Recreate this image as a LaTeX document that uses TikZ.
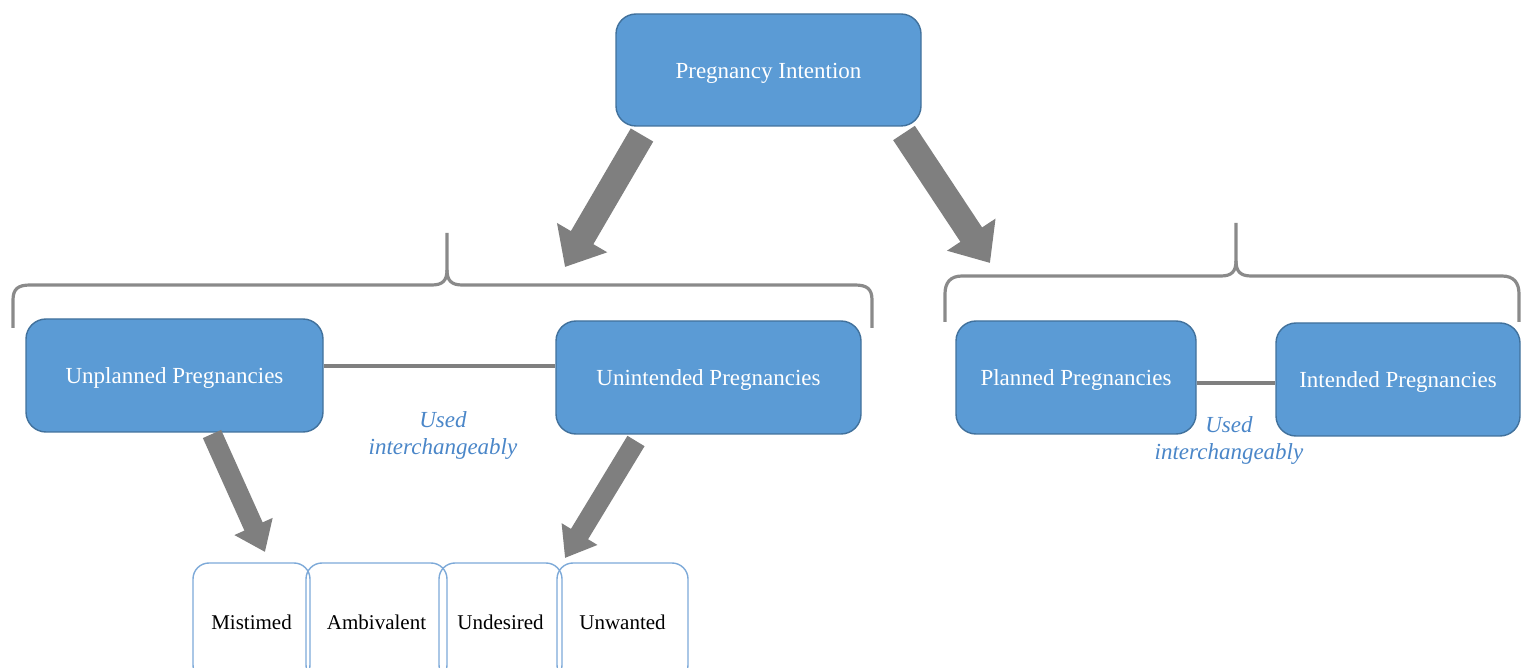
\documentclass[tikz,border=0pt]{standalone}
\usepackage{fontspec}
\setmainfont{Liberation Serif}
\usetikzlibrary{arrows.meta}
\definecolor{boxblue}{HTML}{5B9BD5}
\definecolor{boxline}{HTML}{41719C}
\definecolor{lightline}{HTML}{7DA9D8}
\definecolor{arrowgray}{HTML}{7F7F7F}
\definecolor{bracegray}{HTML}{8A8A8A}
\definecolor{notetext}{HTML}{4A86C8}
\tikzset{
  bluebox/.style={rectangle, rounded corners=10pt, fill=boxblue, draw=boxline, line width=0.7pt,
    text=white, inner sep=0pt, minimum height=56.5pt, text height=8.5pt, text depth=0pt,
    font=\fontsize{11.5}{13}\selectfont},
  subbox/.style={rectangle, rounded corners=8pt, draw=lightline, line width=0.7pt,
    text=black, inner sep=0pt, minimum height=59pt, font=\fontsize{10.5}{12}\selectfont},
  bigarrow/.style={draw=arrowgray, line width=13pt, -{Triangle[length=17pt,width=28pt]}},
  smallarrow/.style={draw=arrowgray, line width=10pt, -{Triangle[length=14pt,width=20pt]}},
  link/.style={draw=arrowgray, line width=2pt},
  bracepath/.style={draw=bracegray, line width=1.6pt},
  note/.style={text=notetext, align=center, font=\fontsize{11.5}{13.5}\selectfont\itshape}
}
\begin{document}
\begin{tikzpicture}[x=0.5pt, y=-0.5pt]
\clip (0,0) rectangle (1522,668);
% main nodes
\node[bluebox, minimum width=152.5pt, minimum height=56pt] (pi) at (768.5,70) {Pregnancy Intention};
\node[bluebox, minimum width=148.5pt] (up) at (174.5,375.5) {Unplanned Pregnancies};
\node[bluebox, minimum width=152.5pt] (ui) at (708.5,377.5) {Unintended Pregnancies};
\node[bluebox, minimum width=120pt] (pl) at (1076,377.5) {Planned Pregnancies};
\node[bluebox, minimum width=122pt] (ip) at (1398,379.5) {Intended Pregnancies};
% sub nodes
\node[subbox, minimum width=58.5pt] (mis) at (251.5,622) {Mistimed};
\node[subbox, minimum width=70.5pt] (amb) at (376.5,622) {Ambivalent};
\node[subbox, minimum width=61.5pt] (und) at (500.5,622) {Undesired};
\node[subbox, minimum width=65.5pt] (unw) at (622.5,622) {Unwanted};
% notes
\node[note] (n1) at (443,436) {Used\\interchangeably};
\node[note] (n2) at (1229,441) {Used\\interchangeably};
% links
\draw[link] (up.east |- 0,366) -- (ui.west |- 0,366);
\draw[link] (pl.east |- 0,383) -- (ip.west |- 0,383);
% braces
\draw[bracepath] (13,328) -- (13,300) .. controls (13,289) and (18,285) .. (30,285) -- (432,285)
  .. controls (443,285) and (447,280) .. (447,270) -- (447,233);
\draw[bracepath] (447,270) .. controls (447,280) and (451,285) .. (462,285) -- (855,285)
  .. controls (867,285) and (872,289) .. (872,300) -- (872,328);
\draw[bracepath] (945,322) -- (945,294) .. controls (945,283) and (950,276) .. (962,276) -- (1221,276)
  .. controls (1232,276) and (1236,271) .. (1236,261) -- (1236,223);
\draw[bracepath] (1236,261) .. controls (1236,271) and (1240,276) .. (1251,276) -- (1502,276)
  .. controls (1514,276) and (1519,283) .. (1519,294) -- (1519,322);
% arrows
\coordinate (a1s) at (642,135);
\coordinate (a1e) at (565,267);
\coordinate (a2s) at (904,133);
\coordinate (a2e) at (990,263);
\coordinate (a3s) at (212,434);
\coordinate (a3e) at (265,552);
\coordinate (a4s) at (636,441);
\coordinate (a4e) at (565,558);
\draw[bigarrow] (a1s) -- (a1e);
\draw[bigarrow] (a2s) -- (a2e);
\draw[smallarrow] (a3s) -- (a3e);
\draw[smallarrow] (a4s) -- (a4e);
\end{tikzpicture}
\end{document}
